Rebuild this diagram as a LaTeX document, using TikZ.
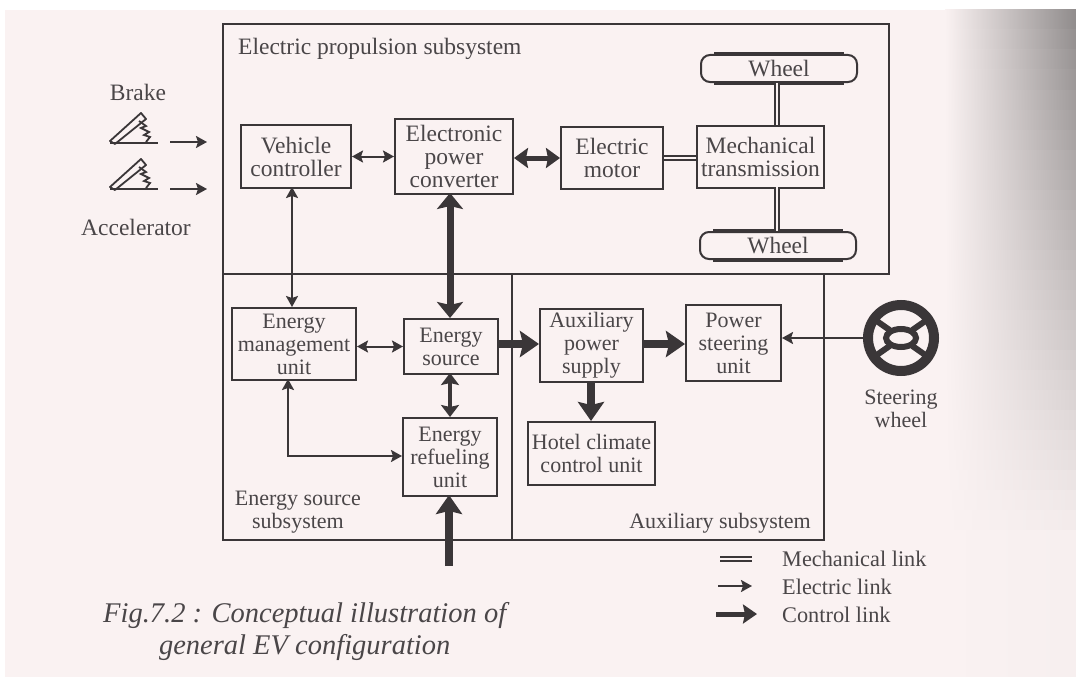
\documentclass[tikz,border=0pt]{standalone}
\usepackage{fontspec}
\setmainfont{Liberation Serif}
\usetikzlibrary{arrows.meta,calc}
\definecolor{paper}{HTML}{FAF2F2}
\definecolor{ink}{HTML}{3A3638}
\definecolor{txt}{HTML}{4A4648}
\definecolor{shadow}{HTML}{8E8A8A}
\tikzset{
  x=1pt,y=-1pt,
  box/.style={draw=ink,line width=2pt,align=center,text=txt,font=\fontsize{23.5}{23}\selectfont,inner sep=0pt,anchor=north west},
  lowbox/.style={box,font=\fontsize{22}{23}\selectfont},
  lab/.style={text=txt,font=\fontsize{23.5}{23}\selectfont,align=center,inner sep=0pt},
  lowlab/.style={lab,font=\fontsize{22}{23}\selectfont},
  frame/.style={draw=ink,line width=2pt},
  elec/.style={draw=ink,line width=2pt,{Stealth[length=11pt,width=12pt,inset=2pt]}-{Stealth[length=11pt,width=12pt,inset=2pt]}},
  elecone/.style={draw=ink,line width=2pt,-{Stealth[length=11pt,width=12pt,inset=2pt]}},
  ctrl/.style={draw=ink,line width=8pt,-{Stealth[length=19pt,width=26pt,inset=3pt]}},
  ctrlboth/.style={draw=ink,line width=7pt,{Stealth[length=16pt,width=26pt,inset=3pt]}-{Stealth[length=16pt,width=26pt,inset=3pt]}},
  ctrlmid/.style={draw=ink,line width=4.5pt,{Stealth[length=12pt,width=18pt,inset=2pt]}-{Stealth[length=12pt,width=18pt,inset=2pt]}},
  mech/.style={draw=ink,line width=6.5pt,postaction={draw=paper,line width=2.5pt}},
}
\begin{document}
\begin{tikzpicture}
\useasboundingbox (0,0) rectangle (1076,677);
\fill[white] (0,0) rectangle (1076,677);
\fill[paper] (5,10) rectangle (1076,677);
\foreach \yy in {10,30,...,670}{
  \pgfmathtruncatemacro{\mixv}{max(3,min(100,100-\yy/5.5))}
  \shade[left color=paper,right color=shadow!\mixv!paper] (945,\yy) rectangle (1076,\yy+21);
}
\draw[frame] (223,24) rectangle (889,274);
\draw[frame] (223,274) -- (223,540) -- (824,540) -- (824,274);
\draw[frame] (512,274) -- (512,540);
\node[lab,anchor=west] (t1) at (238,49) {Electric propulsion subsystem};
\node[lab] (brake) at (138,92) {Brake};
\node[lab] (accel) at (136,227) {Accelerator};
\node[box,minimum width=110pt,minimum height=63pt] (vc) at (240,124) {Vehicle\\controller};
\node[box,minimum width=118pt,minimum height=75pt] (epc) at (394,118) {Electronic\\power\\converter};
\node[box,minimum width=102pt,minimum height=62pt] (em) at (560,126) {Electric\\motor};
\node[box,minimum width=127pt,minimum height=62pt] (mt) at (696,125) {Mechanical\\transmission};
\node[box,rounded corners=9pt,minimum width=156pt,minimum height=27pt] (w1) at (700,54) {Wheel};
\node[box,rounded corners=9pt,minimum width=156pt,minimum height=27pt] (w2) at (699,231) {Wheel};
\node[lowbox,minimum width=124pt,minimum height=72pt] (emu) at (231,307) {Energy\\management\\unit};
\node[lowbox,minimum width=94pt,minimum height=55pt] (es) at (403,318) {Energy\\source};
\node[lowbox,minimum width=94pt,minimum height=78pt] (eru) at (402,417) {Energy\\refueling\\unit};
\node[lowbox,minimum width=103pt,minimum height=73pt] (aps) at (539,308) {Auxiliary\\power\\supply};
\node[lowbox,minimum width=95pt,minimum height=76pt] (psu) at (685,304) {Power\\steering\\unit};
\node[lowbox,minimum width=127pt,minimum height=63pt] (hcc) at (527,421) {Hotel climate\\control unit};
\node[lowlab] (ess) at (298,512) {Energy source\\subsystem};
\node[lowlab,anchor=east] (as) at (811,523) {Auxiliary subsystem};
\node[lowlab] (sw) at (901,409) {Steering\\wheel};
\node[lab,anchor=west,font=\fontsize{22.3}{24}\selectfont] (l1) at (782,559) {Mechanical link};
\node[lab,anchor=west,font=\fontsize{22.3}{24}\selectfont] (l2) at (782,587) {Electric link};
\node[lab,anchor=west,font=\fontsize{22.3}{24}\selectfont] (l3) at (782,615) {Control link};
\node[lab,anchor=west,font=\itshape\fontsize{28.5}{32}\selectfont,align=center] (cap) at (103,631) {Fig.7.2 : Conceptual illustration of\\general EV configuration};
% tyre tread on the wheels
\draw[draw=ink,line width=4.5pt] ([xshift=14pt]w1.north west) -- ([xshift=-14pt]w1.north east);
\draw[draw=ink,line width=4.5pt] ([xshift=14pt]w1.south west) -- ([xshift=-14pt]w1.south east);
\draw[draw=ink,line width=4.5pt] ([xshift=14pt]w2.north west) -- ([xshift=-14pt]w2.north east);
\draw[draw=ink,line width=4.5pt] ([xshift=14pt]w2.south west) -- ([xshift=-14pt]w2.south east);
% pedals
\foreach \yy/\n in {0/a,46/b}{
  \begin{scope}[shift={(0,\yy)}]
    \draw[draw=ink,line width=1.8pt,line join=round] (110,141) -- (141,113) -- (146,119) -- (115,144) -- cycle;
    \draw[draw=ink,line width=2pt] (110,143) -- (158,143);
    \draw[draw=ink,line width=1.8pt] (139,121) -- (146,126) -- (141,128) -- (149,132) -- (144,135) -- (150,137) -- (146,142);
  \end{scope}
}
\coordinate (p1) at (170,142);
\coordinate (p1e) at (207,142);
\coordinate (p2) at (170,189);
\coordinate (p2e) at (207,189);
\draw[elecone] (p1) -- (p1e);
\draw[elecone] (p2) -- (p2e);
% links
\draw[elec] (vc.east) -- (epc.west |- vc.east);
\draw[ctrlboth,line width=5pt,{Stealth[length=14pt,width=20pt,inset=2pt]}-{Stealth[length=14pt,width=20pt,inset=2pt]}] (epc.east |- em.west) -- (em.west);
\draw[mech] (em.east) -- (mt.west |- em.east);
\draw[mech] (w1.south -| 777,0) -- (777,125);
\draw[mech] (777,187) -- (777,231);
\draw[elec] (292,187) -- (292,307);
\draw[ctrlboth] (450,193) -- (450,318);
\draw[elec] (emu.east |- es.west) -- (es.west);
\draw[ctrlmid] (450,373) -- (450,417);
\draw[elec] (288,379) -- (288,456) -- (eru.west |- 0,456);
\draw[ctrl] (es.east |- 0,344) -- (aps.west |- 0,344);
\draw[ctrl] (aps.east |- 0,344) -- (psu.west |- 0,344);
\draw[ctrl] (591,381) -- (591,421);
\draw[ctrl] (449,566) -- (449,495);
% steering
\coordinate (swc) at (901,338);
\draw[draw=ink,line width=10pt] (swc) circle (33pt);
\draw[draw=ink,line width=6pt] (swc) ellipse (15pt and 9pt);
\foreach \ang in {35,145,215,325}{\draw[draw=ink,line width=6pt] ($(swc)+(\ang:14pt)$) -- ($(swc)+(\ang:34pt)$);}
\draw[elecone] (864,338) -- (psu.east |- 0,338);
% legend
\coordinate (m1) at (720,559); \coordinate (m2) at (752,559);
\draw[mech,line width=6pt] (m1) -- (m2);
\coordinate (e1) at (718,586); \coordinate (e2) at (752,586);
\draw[elecone] (e1) -- (e2);
\coordinate (c1) at (716,614); \coordinate (c2) at (757,614);
\draw[ctrl,line width=5pt,-{Stealth[length=14pt,width=19pt,inset=2pt]}] (c1) -- (c2);
\end{tikzpicture}
\end{document}
